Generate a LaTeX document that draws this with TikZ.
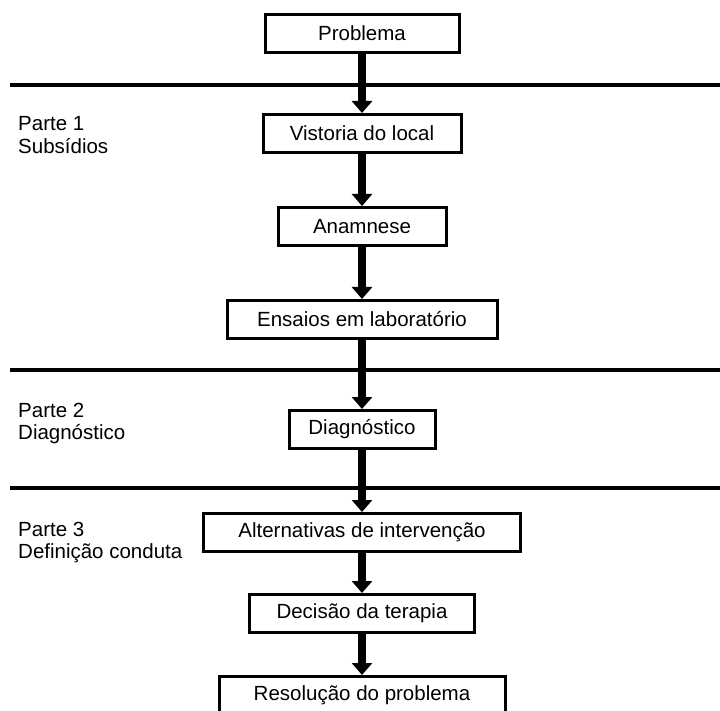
\documentclass[tikz,border=0pt]{standalone}
\usepackage{fontspec}
\setmainfont{Liberation Sans}
\usetikzlibrary{positioning,arrows.meta}

\begin{document}
\begin{tikzpicture}[
  x=1pt, y=1pt,
  every node/.style={font=\fontsize{20.5}{22.5}\selectfont},
  box/.style={draw, line width=3pt, minimum height=38pt, inner sep=0pt, align=center},
  arr/.style={-{Triangle[length=12pt,width=20pt]}, line width=8pt},
  divider/.style={line width=4pt},
  part/.style={anchor=base west, align=left, inner sep=0pt}
]
\useasboundingbox (0,0) rectangle (720,-711);

% flow of boxes
\node[box, minimum width=194pt] (problema) at (362,-33.5) {Problema};
\node[box, minimum width=198pt, below=59pt of problema] (vistoria) {Vistoria do local};
\node[box, minimum width=168pt, below=52pt of vistoria] (anamnese) {Anamnese};
\node[box, minimum width=270pt, below=52pt of anamnese] (ensaios) {Ensaios em laboratório};
\node[box, minimum width=146pt, below=69pt of ensaios] (diag) {Diagnóstico};
\node[box, minimum width=317pt, below=62pt of diag] (altern) {Alternativas de intervenção};
\node[box, minimum width=225pt, below=40pt of altern] (decisao) {Decisão da terapia};
\node[box, minimum width=286pt, below=41pt of decisao] (resol) {Resolução do problema};

\draw[arr] (problema) -- (vistoria);
\draw[arr] (vistoria) -- (anamnese);
\draw[arr] (anamnese) -- (ensaios);
\draw[arr] (ensaios) -- (diag);
\draw[arr] (diag) -- (altern);
\draw[arr] (altern) -- (decisao);
\draw[arr] (decisao) -- (resol);

% dividers between parts
\coordinate (d1w) at (10,-85);  \coordinate (d1e) at (720,-85);
\coordinate (d2w) at (10,-370); \coordinate (d2e) at (720,-370);
\coordinate (d3w) at (10,-488); \coordinate (d3e) at (720,-488);
\draw[divider] (d1w) -- (d1e);
\draw[divider] (d2w) -- (d2e);
\draw[divider] (d3w) -- (d3e);

% part labels (base = last line)
\node[part] (parte1) at (18,-153.5) {Parte 1\\Subsídios};
\node[part] (parte2) at (18,-439.5) {Parte 2\\Diagnóstico};
\node[part] (parte3) at (18,-558.5) {Parte 3\\Definição conduta};
\end{tikzpicture}
\end{document}
